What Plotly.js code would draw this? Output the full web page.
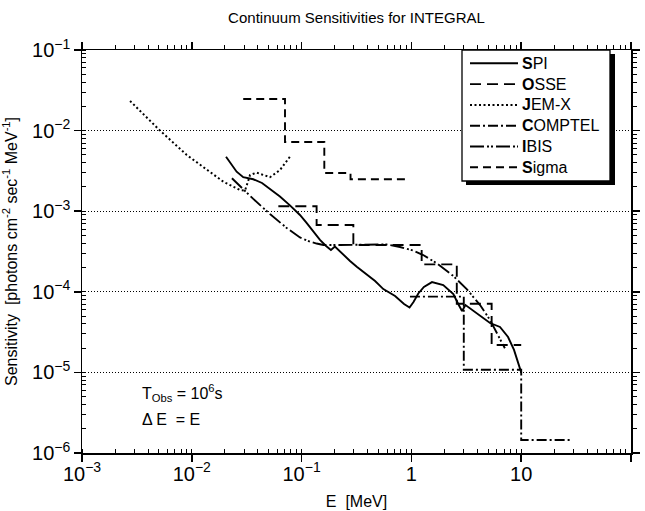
<!DOCTYPE html>
<html><head><meta charset="utf-8">
<script src="https://cdn.plot.ly/plotly-3.0.1.min.js"></script>
<style>html,body{margin:0;padding:0;background:#fff}#chart{width:645px;height:511px}</style>
</head><body><div id="chart"></div>
<script>
// ---- data (energy in MeV, sensitivity in photons cm^-2 s^-1 MeV^-1) ----
const spiE = [0.0205,0.0228,0.0256,0.0294,0.0363,0.0436,0.0515,0.0635,0.0783,0.0966,0.111,0.127,0.147,0.167,0.185,0.201,0.240,0.276,0.318,0.392,0.467,0.555,0.710,0.857,0.962,1.045,1.156,1.30,1.54,1.95,2.41,2.67,2.89,3.11,3.94,5.20,6.41,7.59,8.60,9.25,10.0];
const spiS = [4.74e-3,3.91e-3,3.09e-3,2.64e-3,2.49e-3,2.24e-3,1.88e-3,1.52e-3,1.18e-3,8.98e-4,7.15e-4,5.68e-4,4.40e-4,3.70e-4,3.30e-4,3.65e-4,2.86e-4,2.41e-4,2.05e-4,1.66e-4,1.36e-4,1.08e-4,8.87e-5,7.06e-5,6.38e-5,7.47e-5,9.53e-5,1.15e-4,1.32e-4,1.21e-4,9.40e-5,7.06e-5,5.78e-5,6.85e-5,5.41e-5,4.10e-5,3.66e-5,2.75e-5,1.90e-5,1.35e-5,1.0e-5];

const osseE = [0.0614,0.137,0.296,1.24,2.59,5.38,10.0];
const osseS = [1.15e-3,6.75e-4,3.80e-4,2.19e-4,7.1e-5,2.19e-5,2.19e-5];

const jemxE = [0.00274,0.00506,0.0090,0.0137,0.0194,0.0275,0.0305,0.0322,0.0339,0.039,0.0515,0.0635,0.0783];
const jemxS = [0.0233,0.0102,0.00498,0.00324,0.00232,0.00183,0.00180,0.00225,0.00281,0.00301,0.00264,0.00324,0.00474];

const comptelE = [0.97,3.0,10.0,29.0];
const comptelS = [8.7e-5,1.08e-5,1.45e-6,1.45e-6];

const ibisE = [0.0232,0.0363,0.0515,0.0731,0.0966,0.119,0.137,0.158,0.224,0.340,0.596,0.787,1.04,1.28,1.70,2.41,3.19,4.22,5.20,7.1];
const ibisS = [2.56e-3,1.42e-3,9.23e-4,6.19e-4,4.72e-4,4.19e-4,3.97e-4,3.81e-4,3.81e-4,3.87e-4,3.87e-4,3.60e-4,3.25e-4,2.86e-4,2.26e-4,1.57e-4,1.08e-4,6.85e-5,4.47e-5,1.99e-5];

const sigmaE = [0.0294,0.0706,0.161,0.279,0.938];
const sigmaS = [0.0247,0.00723,0.00298,0.00249,0.00249];

const seriesNames = ['SPI','OSSE','JEM-X','COMPTEL','IBIS','Sigma'];
const legendLabels = ['<b>S</b>PI','<b>O</b>SSE','<b>J</b>EM-X','<b>C</b>OMPTEL','<b>I</b>BIS','<b>S</b>igma'];

// ---- styling ----
const FONT = 'Liberation Sans, Arial, Helvetica, sans-serif';
const W = 645, H = 511, ML = 82, MR = 14, MT = 50, MB = 58;
const PW = W - ML - MR, PH = H - MT - MB;
const styleOf = {
  'SPI':     {dash:'solid', width:1.9, shape:'linear'},
  'OSSE':    {dash:'11px,6px', width:1.9, shape:'hv'},
  'JEM-X':   {dash:'2px,2.5px', width:2, shape:'linear'},
  'COMPTEL': {dash:'10px,3px,2px,3px', width:1.9, shape:'hv'},
  'IBIS':    {dash:'14px,3px,2px,2px,2px,3px', width:1.9, shape:'linear'},
  'Sigma':   {dash:'8px,5px', width:1.9, shape:'hv'}
};
const dataOf = {
  'SPI':[spiE,spiS], 'OSSE':[osseE,osseS], 'JEM-X':[jemxE,jemxS],
  'COMPTEL':[comptelE,comptelS], 'IBIS':[ibisE,ibisS], 'Sigma':[sigmaE,sigmaS]
};

const traces = seriesNames.map(n => ({
  type:'scatter', mode:'lines', name:n, x:dataOf[n][0], y:dataOf[n][1],
  line:{color:'#000', width:styleOf[n].width, dash:styleOf[n].dash, shape:styleOf[n].shape},
  showlegend:false, hoverinfo:'skip'
}));
// empty trace to carry the mirrored top/right axes
traces.push({type:'scatter', x:[], y:[], xaxis:'x2', yaxis:'y2', showlegend:false, hoverinfo:'skip'});

// ---- manual legend (pixel layout -> paper coords) ----
const px = X => (X - ML) / PW;
const py = Y => 1 - (Y - MT) / PH;
const shapes = [
  {type:'rect', xref:'paper', yref:'paper', x0:px(466), x1:px(615), y0:py(185), y1:py(54), fillcolor:'#000', line:{width:0}},
  {type:'rect', xref:'paper', yref:'paper', x0:px(462), x1:px(610), y0:py(181), y1:py(50), fillcolor:'#fff', line:{color:'#000', width:1.3}}
];
const annotations = [];
seriesNames.forEach((n,i) => {
  const rowY = 63.3 + i*20.8;
  shapes.push({type:'line', xref:'paper', yref:'paper', x0:px(470), x1:px(518), y0:py(rowY), y1:py(rowY),
    line:{color:'#000', width:styleOf[n].width, dash:styleOf[n].dash}});
  annotations.push({xref:'paper', yref:'paper', x:px(520), y:py(rowY), xanchor:'left', yanchor:'middle',
    text:legendLabels[i], showarrow:false, font:{family:FONT, size:16, color:'#000'}});
});
annotations.push({xref:'paper', yref:'paper', x:px(140), y:py(393), xanchor:'left', yanchor:'middle',
  text:'T<sub>Obs</sub> = 10<sup>6</sup>s', showarrow:false, font:{family:FONT, size:16, color:'#000'}});
annotations.push({xref:'paper', yref:'paper', x:px(140), y:py(419), xanchor:'left', yanchor:'middle',
  text:'\u0394 E  = E', showarrow:false, font:{family:FONT, size:16, color:'#000'}});

const axCommon = {
  type:'log', dtick:1, exponentformat:'power', showline:true, linecolor:'#000', linewidth:1.5,
  ticks:'outside', ticklen:7, tickwidth:1.5, tickcolor:'#000', zeroline:false,
  tickfont:{family:FONT, size:16, color:'#000'}
};

const layout = {
  width:W, height:H, margin:{l:ML, r:MR, t:MT, b:MB, autoexpand:false},
  paper_bgcolor:'#fff', plot_bgcolor:'#fff',
  font:{family:FONT, size:16, color:'#000'},
  title:{text:'Continuum Sensitivities for INTEGRAL', font:{family:FONT, size:15, color:'#000'},
         x:0.5, xref:'paper', xanchor:'center', y:1-18/H, yref:'container', yanchor:'middle'},
  xaxis: Object.assign({}, axCommon, {range:[-3,2], showgrid:false, ticklabelstandoff:-4,
    minor:{dtick:'D1', ticks:'inside', ticklen:4, tickwidth:1, tickcolor:'#000', showgrid:false},
    title:{text:'E  [MeV]', font:{family:FONT, size:16, color:'#000'}, standoff:12}}),
  yaxis: Object.assign({}, axCommon, {range:[-6,-1], showgrid:true, gridcolor:'#000', gridwidth:1, griddash:'1px,2px',
    minor:{dtick:'D1', ticks:'inside', ticklen:4, tickwidth:1, tickcolor:'#000', showgrid:false},
    title:{text:'Sensitivity  [photons cm<sup>-2</sup> sec<sup>-1</sup> MeV<sup>-1</sup>]', font:{family:FONT, size:16, color:'#000'}, standoff:10}}),
  xaxis2: Object.assign({}, axCommon, {range:[-3,2], overlaying:'x', side:'top', showticklabels:false, showgrid:false,
    minor:{dtick:'D1', ticks:'outside', ticklen:4, tickwidth:1, tickcolor:'#000', showgrid:false}}),
  yaxis2: Object.assign({}, axCommon, {range:[-6,-1], overlaying:'y', side:'right', showticklabels:false, showgrid:false,
    minor:{dtick:'D1', ticks:'outside', ticklen:4, tickwidth:1, tickcolor:'#000', showgrid:false}}),
  shapes:shapes, annotations:annotations, showlegend:false
};

Plotly.newPlot('chart', traces, layout, {staticPlot:true, displayModeBar:false});
</script></body></html>
